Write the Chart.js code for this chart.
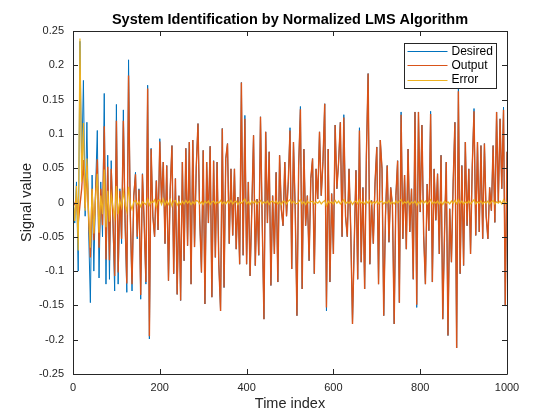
<!DOCTYPE html>
<html>
<head>
<meta charset="utf-8">
<script src="https://cdn.jsdelivr.net/npm/chart.js@4/dist/chart.umd.min.js"></script>
<style>
  html, body { margin: 0; padding: 0; background: #fff; }
</style>
</head>
<body>
<canvas id="lmsChart" width="560" height="420"></canvas>
<script>
// time index of every 4th sample
const timeIndex = Array.from({ length: 251 }, (_, i) => i * 4);

const desired = [
  0.005, -0.03, 0.03, -0.10, 0.235, 0.05, 0.178, -0.02, 0.117, -0.04,
  -0.146, 0.04, -0.10, 0.02, 0.105, -0.11, 0.03, -0.05, 0.159, -0.119,
  0.069, -0.112, 0.061, -0.03, -0.129, 0.143, -0.119, 0.02, -0.06, 0.135,
  -0.03, -0.131, 0.208, -0.02, -0.129, 0.01, 0.044, -0.053, 0.02, -0.141,
  0.042, -0.03, -0.119, 0.171, -0.199, 0.079, -0.02,
  -0.05, 0.032, -0.04, 0.093, 0.0, 0.059, -0.06, 0.054, -0.114, 0.02,
  0.083, -0.104, 0.035, -0.134, 0.01, -0.143, 0.059, -0.085, 0.079, -0.063,
  0.088, -0.119, 0.091, -0.065, 0.052, 0.115, -0.024, -0.102, 0.076, -0.148,
  0.059, -0.03, 0.082, -0.138, 0.061, -0.08, 0.059, -0.09, -0.158, 0.108,
  -0.124, 0.064, 0.086, -0.06, 0.049, -0.048, 0.049, -0.068, 0.008, -0.09,
  0.175, -0.077, 0.127, -0.09, 0.03, -0.107, -0.01, 0.098, -0.092, 0.005,
  -0.077, 0.125, -0.03, -0.17, 0.103, -0.03, 0.074, -0.121, 0.01, -0.075,
  0.044, -0.116, 0.069, -0.01, -0.034, 0.059, -0.02, 0.03, 0.109, -0.097,
  0.088, -0.01, -0.165, 0.054, 0.14, -0.126, 0.078, -0.034, 0.01, -0.085,
  0.035, 0.064, -0.104, 0.049, 0.005, 0.103, 0.01, 0.06, 0.144, -0.158,
  0.078, -0.116, 0.013, -0.075, 0.113, 0.02, 0.059, 0.117, -0.05, 0.128,
  -0.02, -0.05, 0.049, -0.041, -0.177, -0.06, 0.047, -0.112, 0.109, -0.087,
  0.022, -0.126, 0.069, 0.188, -0.09, 0.003, -0.06, 0.03, 0.081, -0.119,
  0.091, 0.049, -0.165, -0.02, 0.054, -0.058, 0.022, -0.004, -0.177, 0.01,
  0.061, -0.146, 0.132, -0.053, 0.04, -0.068, 0.078, -0.043, 0.02, -0.112,
  0.132, -0.153, 0.132, -0.014, 0.113, -0.048, -0.119, 0.027, -0.041, 0.133,
  -0.116, 0.049, -0.026, 0.042, -0.075, 0.069, -0.17, -0.046, 0.059, -0.194,
  -0.009, -0.087, 0.03, 0.117, -0.212, 0.166, -0.104, 0.054, -0.092, 0.088,
  -0.034, 0.049, -0.075, 0.054, 0.137, -0.048, 0.088, -0.043, 0.083, -0.053,
  0.086, -0.02, -0.053, 0.022, -0.012, 0.083, -0.029, 0.132, 0.0, 0.122,
  0.02, 0.139, -0.151, 0.074
];

const output = [
  0.0, -0.003, 0.006, -0.03, -0.004, 0.02, 0.062, -0.008, 0.053, -0.02,
  -0.08, 0.02, -0.055, 0.012, 0.063, -0.066, 0.02, -0.033, 0.111, -0.083,
  0.052, -0.084, 0.049, -0.024, -0.107, 0.119, -0.102, 0.017, -0.053, 0.119,
  -0.027, -0.118, 0.185, -0.018, -0.119, 0.009, 0.041, -0.05, 0.019, -0.135,
  0.041, -0.029, -0.116, 0.166, -0.195, 0.078, -0.02,
  -0.05, 0.032, -0.04, 0.089, 0.0, 0.059, -0.06, 0.054, -0.114, 0.02,
  0.083, -0.104, 0.035, -0.134, 0.01, -0.143, 0.059, -0.085, 0.079, -0.063,
  0.088, -0.119, 0.091, -0.065, 0.052, 0.115, -0.024, -0.102, 0.076, -0.148,
  0.059, -0.03, 0.082, -0.138, 0.061, -0.08, 0.059, -0.09, -0.158, 0.108,
  -0.124, 0.064, 0.086, -0.06, 0.049, -0.048, 0.049, -0.068, 0.008, -0.09,
  0.175, -0.077, 0.122, -0.09, 0.03, -0.107, -0.01, 0.098, -0.092, 0.005,
  -0.077, 0.125, -0.03, -0.17, 0.103, -0.03, 0.074, -0.121, 0.01, -0.075,
  0.044, -0.116, 0.069, -0.01, -0.034, 0.059, -0.02, 0.03, 0.105, -0.097,
  0.088, -0.01, -0.165, 0.054, 0.136, -0.126, 0.078, -0.034, 0.01, -0.085,
  0.035, 0.064, -0.104, 0.049, 0.005, 0.103, 0.01, 0.06, 0.144, -0.153,
  0.078, -0.116, 0.013, -0.075, 0.113, 0.02, 0.059, 0.117, -0.05, 0.124,
  -0.02, -0.05, 0.049, -0.041, -0.177, -0.06, 0.047, -0.112, 0.105, -0.087,
  0.022, -0.126, 0.069, 0.188, -0.09, 0.003, -0.06, 0.03, 0.081, -0.119,
  0.091, 0.049, -0.165, -0.02, 0.054, -0.058, 0.022, -0.004, -0.177, 0.01,
  0.061, -0.146, 0.128, -0.053, 0.04, -0.068, 0.078, -0.043, 0.02, -0.112,
  0.132, -0.149, 0.132, -0.014, 0.113, -0.048, -0.119, 0.027, -0.041, 0.129,
  -0.116, 0.049, -0.026, 0.042, -0.075, 0.069, -0.17, -0.046, 0.059, -0.194,
  -0.009, -0.087, 0.03, 0.117, -0.212, 0.162, -0.104, 0.054, -0.092, 0.088,
  -0.034, 0.049, -0.075, 0.054, 0.133, -0.048, 0.088, -0.043, 0.083, -0.053,
  0.086, -0.02, -0.053, 0.022, -0.012, 0.083, -0.029, 0.132, 0.0, 0.122,
  0.02, 0.135, -0.151, 0.074
];

const error = [
  0.005, -0.027, 0.024, -0.07, 0.239, 0.03, 0.116, -0.012, 0.064, -0.02,
  -0.066, 0.02, -0.045, 0.008, 0.042, -0.044, 0.01, -0.017, 0.048, -0.036,
  0.017, -0.028, 0.012, -0.006, -0.022, 0.024, -0.017, 0.003, -0.007, 0.016,
  -0.003, -0.013, 0.023, -0.002, -0.01, 0.001, 0.003, -0.003, 0.001, -0.006,
  0.001, -0.001, -0.003, 0.005, -0.004, 0.001, 0.0,
  0.004, -0.006, 0.003, 0.004, -0.003, 0.005, -0.004, 0.002, -0.003, 0.004,
  -0.005, 0.002, 0.003, -0.004, 0.001, -0.003, 0.002, -0.002, 0.003, -0.001,
  0.002, -0.003, 0.001, -0.002, 0.003, 0.002, -0.002, 0.001, -0.003, 0.002,
  -0.001, 0.002, -0.003, 0.001, 0.002, -0.002, 0.001, -0.001, 0.003, -0.002,
  0.001, -0.002, 0.002, -0.001, 0.003, -0.002, 0.001, 0.002, -0.003, 0.001,
  -0.001, 0.002, 0.005, -0.002, 0.001, -0.003, 0.002, -0.001, 0.002, -0.002,
  0.001, 0.003, -0.002, 0.001, -0.001, 0.002, -0.003, 0.001, 0.002, -0.001,
  0.002, -0.002, 0.001, -0.003, 0.002, 0.001, -0.002, 0.002, 0.004, -0.001,
  0.002, -0.001, -0.002, 0.001, 0.004, -0.002, 0.001, -0.003, 0.002, -0.001,
  0.001, 0.002, -0.002, 0.001, -0.001, 0.002, -0.002, 0.001, 0.003, -0.005,
  0.002, -0.001, 0.001, -0.002, 0.003, -0.001, 0.002, -0.002, 0.001, 0.004,
  -0.002, 0.001, -0.001, 0.002, -0.003, 0.001, 0.002, -0.002, 0.004, -0.001,
  0.001, -0.002, 0.002, -0.001, 0.003, -0.002, 0.001, -0.001, 0.002, -0.002,
  0.001, 0.002, -0.002, 0.001, -0.001, 0.003, -0.002, 0.001, -0.002, 0.002,
  -0.001, 0.002, 0.004, -0.002, 0.001, -0.001, 0.002, -0.003, 0.001, -0.001,
  0.002, -0.004, 0.001, -0.002, 0.003, -0.001, 0.002, -0.002, 0.001, 0.004,
  -0.002, 0.001, -0.001, 0.002, -0.002, 0.001, -0.003, 0.002, -0.001, 0.001,
  -0.002, 0.002, -0.001, 0.003, -0.002, 0.004, -0.001, 0.002, -0.002, 0.001,
  -0.001, 0.002, -0.002, 0.001, 0.004, -0.002, 0.001, -0.001, 0.002, -0.002,
  0.001, -0.001, 0.002, -0.002, 0.001, 0.003, -0.002, 0.001, -0.001, 0.002,
  -0.002, 0.004, -0.002, 0.001
];

const seriesNames = ['Desired', 'Output', 'Error'];
const seriesColors = ['#0072BD', '#D95319', '#EDB120'];
const seriesWidths = [1, 1.4, 1.2];
const xTicks = [0, 200, 400, 600, 800, 1000];
const yTicks = [-0.25, -0.2, -0.15, -0.1, -0.05, 0, 0.05, 0.1, 0.15, 0.2, 0.25];

const axisColor = '#262626';
Chart.defaults.font.family = '"Liberation Sans", Arial, sans-serif';
Chart.defaults.color = axisColor;

const toPoints = (vals) => vals.map((v, i) => ({ x: timeIndex[i], y: v }));

// matlab style box with inward ticks on all four sides
const axesBox = {
  id: 'axesBox',
  afterDraw(chart) {
    const { ctx, chartArea: a, scales } = chart;
    const len = 5;
    ctx.save();
    ctx.strokeStyle = axisColor;
    ctx.lineWidth = 1;
    ctx.beginPath();
    ctx.rect(Math.round(a.left) + 0.5, Math.round(a.top) + 0.5,
             Math.round(a.right - a.left), Math.round(a.bottom - a.top));
    scales.x.ticks.forEach(t => {
      const px = Math.round(scales.x.getPixelForValue(t.value)) + 0.5;
      ctx.moveTo(px, a.bottom); ctx.lineTo(px, a.bottom - len);
      ctx.moveTo(px, a.top); ctx.lineTo(px, a.top + len);
    });
    scales.y.ticks.forEach(t => {
      const py = Math.round(scales.y.getPixelForValue(t.value)) + 0.5;
      ctx.moveTo(a.left, py); ctx.lineTo(a.left + len, py);
      ctx.moveTo(a.right, py); ctx.lineTo(a.right - len, py);
    });
    ctx.stroke();
    ctx.restore();
  }
};

const boxLegend = {
  id: 'boxLegend',
  afterDraw(chart) {
    const { ctx, chartArea: a } = chart;
    const w = 92, h = 45;
    const left = Math.round(a.right - 11 - w) + 0.5;
    const top = Math.round(a.top + 12) + 0.5;
    ctx.save();
    ctx.fillStyle = '#ffffff';
    ctx.fillRect(left, top, w, h);
    ctx.strokeStyle = axisColor;
    ctx.lineWidth = 1;
    ctx.strokeRect(left, top, w, h);
    ctx.font = '12px "Liberation Sans", Arial, sans-serif';
    ctx.textBaseline = 'middle';
    chart.data.datasets.forEach((ds, i) => {
      const y = top + 7.5 + i * 14.3;
      ctx.strokeStyle = ds.borderColor;
      ctx.lineWidth = 1;
      ctx.beginPath();
      ctx.moveTo(left + 3, Math.round(y) + 0.5);
      ctx.lineTo(left + 43, Math.round(y) + 0.5);
      ctx.stroke();
      ctx.fillStyle = '#000000';
      ctx.fillText(ds.label, left + 47, y + 0.5);
    });
    ctx.restore();
  }
};

const series = [desired, output, error];

new Chart(document.getElementById('lmsChart'), {
  type: 'line',
  data: {
    datasets: series.map((vals, i) => ({
      label: seriesNames[i],
      data: toPoints(vals),
      borderColor: seriesColors[i],
      backgroundColor: seriesColors[i],
      borderWidth: seriesWidths[i],
      pointRadius: 0,
      tension: 0,
      fill: false,
      order: 3 - i
    }))
  },
  options: {
    responsive: false,
    animation: false,
    devicePixelRatio: 1,
    layout: { padding: { left: 0, right: 53, top: 0, bottom: 0 } },
    plugins: {
      legend: { display: false },
      tooltip: { enabled: false },
      title: {
        display: true,
        fullSize: false,
        text: 'System Identification by Normalized LMS Algorithm',
        color: '#000000',
        font: { size: 14.5, weight: 'bold', lineHeight: 1.2 },
        padding: { top: 11, bottom: 2.6 }
      }
    },
    scales: {
      x: {
        type: 'linear',
        min: 0,
        max: 1000,
        afterBuildTicks: (s) => { s.ticks = xTicks.map(v => ({ value: v })); },
        afterFit: (s) => { s.height = 46; },
        grid: { display: false, drawTicks: false },
        border: { display: false },
        ticks: {
          font: { size: 11 },
          padding: 7,
          maxRotation: 0,
          color: axisColor,
          callback: (v) => String(v)
        },
        title: {
          display: true,
          text: 'Time index',
          font: { size: 14.5, lineHeight: 1.2 },
          padding: { top: 0, bottom: 7 },
          color: axisColor
        }
      },
      y: {
        type: 'linear',
        min: -0.25,
        max: 0.25,
        afterBuildTicks: (s) => { s.ticks = yTicks.map(v => ({ value: v })); },
        afterFit: (s) => { s.width = 73; },
        grid: { display: false, drawTicks: false },
        border: { display: false },
        ticks: {
          font: { size: 11 },
          padding: 9,
          color: axisColor,
          callback: (v) => String(Number(v.toFixed(2)))
        },
        title: {
          display: true,
          text: 'Signal value',
          font: { size: 14.5, lineHeight: 1.2 },
          padding: { top: 18, bottom: 18 },
          color: axisColor
        }
      }
    }
  },
  plugins: [axesBox, boxLegend]
});
</script>
</body>
</html>
